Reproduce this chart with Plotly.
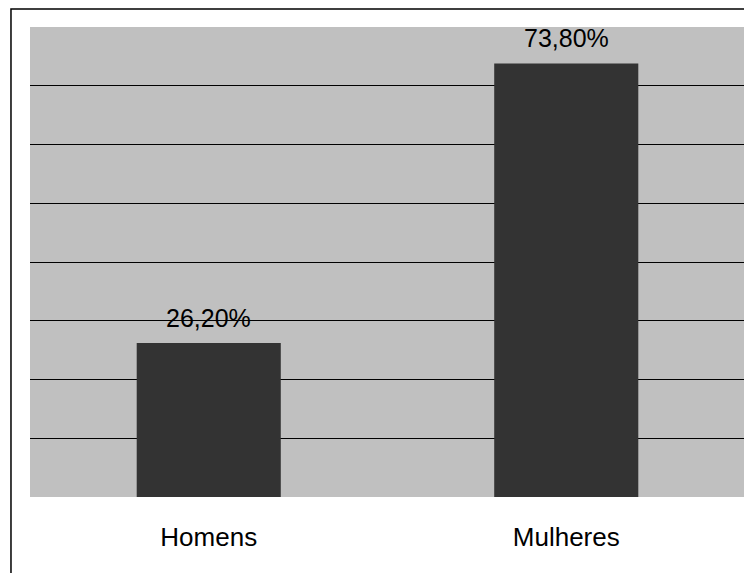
import plotly.graph_objects as go

categories = ["Homens", "Mulheres"]
values = [0.262, 0.738]
labels = ["26,20%", "73,80%"]
grid_vals = [0.1, 0.2, 0.3, 0.4, 0.5, 0.6, 0.7]

fig = go.Figure()
fig.add_trace(go.Bar(
    x=categories, y=values,
    marker=dict(color="#333333", line=dict(width=0)),
    hoverinfo="skip",
))

for c, v, t in zip(categories, values, labels):
    fig.add_annotation(x=c, y=v, text=t, showarrow=False, yanchor="bottom",
                       yshift=9, font=dict(family="Liberation Sans, Arial", size=25, color="#000000"))

fig.add_shape(type="rect", xref="paper", yref="paper",
              x0=-0.0266, x1=1.05, y0=-0.3, y1=1.0383,
              line=dict(color="#000000", width=1.5), layer="below")

fig.update_layout(
    width=744, height=565,
    margin=dict(l=22, r=7, t=19, b=76),
    paper_bgcolor="#ffffff",
    plot_bgcolor="#c0c0c0",
    bargap=0.597,
    showlegend=False,
    font=dict(family="Liberation Sans, Arial", size=25, color="#000000"),
    xaxis=dict(showgrid=False, ticks="outside", ticklen=17, tickcolor="rgba(0,0,0,0)",
               tickfont=dict(size=26), showline=False, zeroline=False, fixedrange=True),
    yaxis=dict(range=[0, 0.8], tickvals=grid_vals, showticklabels=False,
               showgrid=True, gridcolor="#000000", gridwidth=1, zeroline=False,
               showline=False, fixedrange=True),
)

fig.write_html("out.html")
